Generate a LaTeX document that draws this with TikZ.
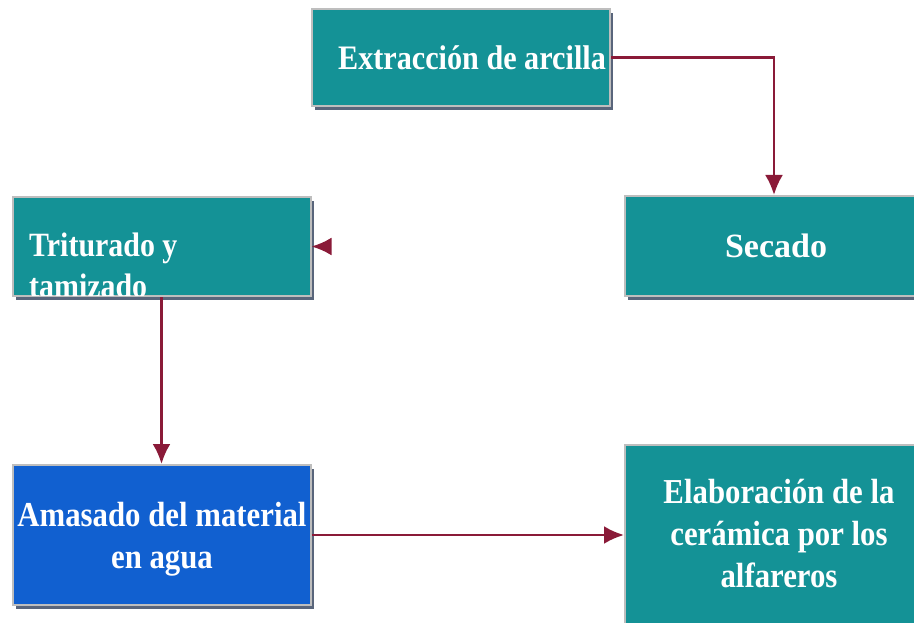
\documentclass[tikz,border=0pt]{standalone}
\usepackage{fontspec}
\setmainfont{Liberation Serif}
\newfontfamily\condfont[FakeStretch=0.88]{Liberation Serif}
\usetikzlibrary{arrows.meta,shadows}
\definecolor{boxteal}{RGB}{20,146,150}
\definecolor{boxblue}{RGB}{17,96,208}
\definecolor{arrowred}{RGB}{138,26,56}
\definecolor{shadowc}{RGB}{60,75,100}
\definecolor{edgegray}{RGB}{190,190,190}
\tikzset{
  procbox/.style={rectangle, fill=boxteal, draw=edgegray, line width=2pt,
    minimum width=298pt, text=white, inner sep=0pt, align=center,
    font=\condfont\bfseries\fontsize{34.3}{42}\selectfont,
    drop shadow={shadow xshift=3pt, shadow yshift=-4pt, fill=shadowc, opacity=0.85}},
  boxtext/.style={text=white, inner sep=0pt, font=\condfont\bfseries\fontsize{35}{42}\selectfont},
  flow/.style={draw=arrowred, line width=2.7pt, -{Latex[length=20pt,width=18pt]}}
}
\begin{document}
\begin{tikzpicture}[x=1pt,y=-1pt]
\useasboundingbox (0,0) rectangle (914,623);
\clip (0,0) rectangle (914,623);
\fill[white] (0,0) rectangle (914,623);
\node[procbox, minimum height=97pt] (ext) at (461,57.5) {\hspace*{22pt}Extracción de arcilla};
\node[procbox, minimum height=100pt, font=\rmfamily\bfseries\fontsize{34}{42}\selectfont] (sec) at (774,246) {\hspace*{4pt}Secado};
\node[procbox, minimum height=99pt] (trit) at (161.5,246.5) {};
\begin{scope}
  \clip (13,198) rectangle (310,295);
  \node[boxtext, anchor=base west, align=left,
    font=\condfont\bfseries\fontsize{34}{41}\selectfont] (trittext) at (29,298) {Triturado y\\tamizado};
\end{scope}
\node[procbox, fill=boxblue, minimum height=140pt] (ama) at (161.5,535) {};
\node[boxtext, align=center, anchor=base] (amatext) at (162,568) {Amasado del material\\en agua};
\node[procbox, minimum height=180pt] (ela) at (774,535) {};
\node[boxtext, align=center, anchor=base] (elatext) at (779,587) {Elaboración de la\\cerámica por los\\alfareros};
\coordinate (headstart) at ([xshift=19pt]trit.east);
\draw[flow] (ext.east) -| (sec.north);
\draw[flow] (headstart) -- (trit.east);
\draw[flow] (trit.south) -- (ama.north);
\draw[flow] (ama.east) -- (ela.west);
\end{tikzpicture}
\end{document}
